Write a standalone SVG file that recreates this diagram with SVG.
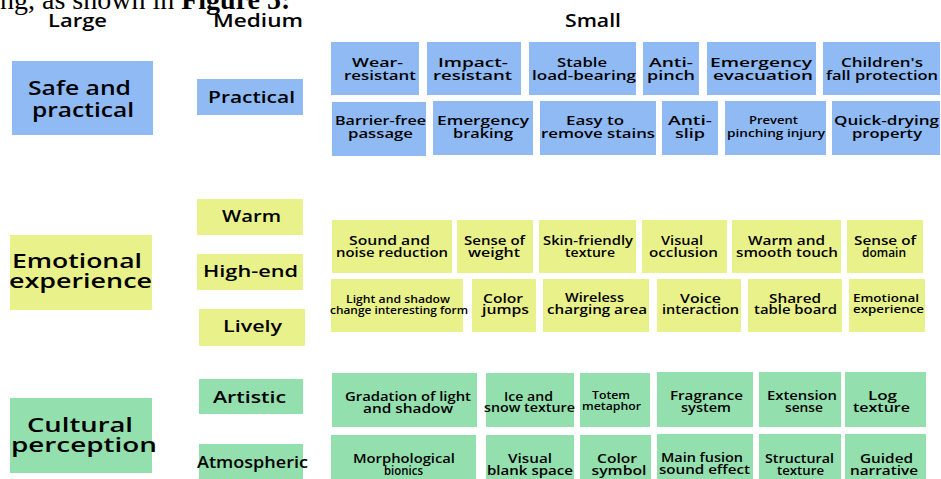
<svg xmlns="http://www.w3.org/2000/svg" width="941" height="479" viewBox="0 0 941 479">
<style>
.b{fill:#8fbaf4}
.y{fill:#e9f28a}
.g{fill:#93dfae}
text{font-family:"Open Sans","DejaVu Sans",sans-serif;font-weight:600;fill:#000;text-anchor:middle}
.h{font-size:18px}
.L{font-size:20px}
.M{font-size:16px}
.s{font-size:13px}
.t{font-size:10.5px}
.cap{font-family:"Liberation Serif","Times New Roman",serif;font-weight:400;font-size:28px;text-anchor:start}
</style>
<rect width="941" height="479" fill="#fff"/>
<text class="cap" x="0" y="9">ng, as shown in <tspan font-weight="700">Figure 5:</tspan></text>

<g id="headers">
<text class="h" x="77.5" y="27" textLength="59" lengthAdjust="spacingAndGlyphs">Large</text>
<text class="h" x="258" y="27" textLength="90" lengthAdjust="spacingAndGlyphs">Medium</text>
<text class="h" x="593" y="27" textLength="56" lengthAdjust="spacingAndGlyphs">Small</text>
</g>

<!-- Large -->
<g id="safe-and-practical"><rect class="b" x="12" y="61" width="141" height="74"/>
<text class="L" x="79.5" y="95" textLength="103" lengthAdjust="spacingAndGlyphs">Safe and</text>
<text class="L" x="83" y="117" textLength="102" lengthAdjust="spacingAndGlyphs">practical</text></g>
<g id="emotional-experience"><rect class="y" x="10" y="235" width="142" height="75"/>
<text class="L" x="77" y="268" textLength="130" lengthAdjust="spacingAndGlyphs">Emotional</text>
<text class="L" x="80.5" y="288" textLength="143" lengthAdjust="spacingAndGlyphs">experience</text></g>
<g id="cultural-perception"><rect class="g" x="10" y="398" width="142" height="75"/>
<text class="L" x="80" y="432" textLength="106" lengthAdjust="spacingAndGlyphs">Cultural</text>
<text class="L" x="84" y="452" textLength="146" lengthAdjust="spacingAndGlyphs">perception</text></g>

<!-- Medium -->
<g id="practical"><rect class="b" x="197" y="79" width="106" height="36"/>
<text class="M" x="251.5" y="103" textLength="87" lengthAdjust="spacingAndGlyphs">Practical</text></g>
<g id="warm"><rect class="y" x="197" y="199" width="106" height="36"/>
<text class="M" x="251.5" y="222" textLength="59" lengthAdjust="spacingAndGlyphs">Warm</text></g>
<g id="high-end"><rect class="y" x="197" y="254" width="106" height="36"/>
<text class="M" x="250.5" y="277" textLength="95" lengthAdjust="spacingAndGlyphs">High-end</text></g>
<g id="lively"><rect class="y" x="199" y="309" width="106" height="37"/>
<text class="M" x="252.5" y="332" textLength="59" lengthAdjust="spacingAndGlyphs">Lively</text></g>
<g id="artistic"><rect class="g" x="199" y="379" width="104" height="35"/>
<text class="M" x="249.5" y="403" textLength="73" lengthAdjust="spacingAndGlyphs">Artistic</text></g>
<g id="atmospheric"><rect class="g" x="199" y="444" width="104" height="40"/>
<text class="M" x="252.5" y="468" textLength="111" lengthAdjust="spacingAndGlyphs">Atmospheric</text></g>

<!-- Small: blue row 1 -->
<g id="wear-resistant"><rect class="b" x="331" y="42" width="88" height="53"/>
<text class="s" x="377.5" y="67" textLength="51" lengthAdjust="spacingAndGlyphs">Wear-</text>
<text class="s" x="380" y="80" textLength="72" lengthAdjust="spacingAndGlyphs">resistant</text></g>
<g id="impact-resistant"><rect class="b" x="427" y="42" width="94" height="53"/>
<text class="s" x="473" y="67" textLength="70" lengthAdjust="spacingAndGlyphs">Impact-</text>
<text class="s" x="472.5" y="80" textLength="79" lengthAdjust="spacingAndGlyphs">resistant</text></g>
<g id="stable-load-bearing"><rect class="b" x="529" y="42" width="107" height="53"/>
<text class="s" x="582" y="67" textLength="50" lengthAdjust="spacingAndGlyphs">Stable</text>
<text class="s" x="584" y="80" textLength="104" lengthAdjust="spacingAndGlyphs">load-bearing</text></g>
<g id="anti-pinch"><rect class="b" x="643" y="42" width="56" height="53"/>
<text class="s" x="671" y="67" textLength="44" lengthAdjust="spacingAndGlyphs">Anti-</text>
<text class="s" x="671" y="80" textLength="48" lengthAdjust="spacingAndGlyphs">pinch</text></g>
<g id="emergency-evacuation"><rect class="b" x="707" y="42" width="109" height="53"/>
<text class="s" x="761" y="67" textLength="102" lengthAdjust="spacingAndGlyphs">Emergency</text>
<text class="s" x="763" y="80" textLength="100" lengthAdjust="spacingAndGlyphs">evacuation</text></g>
<g id="childrens-fall-protection"><rect class="b" x="823" y="42" width="117" height="53"/>
<text class="s" x="882" y="67" textLength="82" lengthAdjust="spacingAndGlyphs">Children's</text>
<text class="s" x="882" y="80" textLength="112" lengthAdjust="spacingAndGlyphs">fall protection</text></g>

<!-- blue row 2 -->
<g id="barrier-free-passage"><rect class="b" x="332" y="102" width="94" height="54"/>
<text class="s" x="380.5" y="125" textLength="91" lengthAdjust="spacingAndGlyphs">Barrier-free</text>
<text class="s" x="380.5" y="138" textLength="65" lengthAdjust="spacingAndGlyphs">passage</text></g>
<g id="emergency-braking"><rect class="b" x="433" y="101" width="100" height="54"/>
<text class="s" x="483" y="125" textLength="92" lengthAdjust="spacingAndGlyphs">Emergency</text>
<text class="s" x="483" y="138" textLength="60" lengthAdjust="spacingAndGlyphs">braking</text></g>
<g id="easy-to-remove-stains"><rect class="b" x="540" y="101" width="116" height="54"/>
<text class="s" x="595" y="125" textLength="58" lengthAdjust="spacingAndGlyphs">Easy to</text>
<text class="s" x="598" y="138" textLength="114" lengthAdjust="spacingAndGlyphs">remove stains</text></g>
<g id="anti-slip"><rect class="b" x="662" y="101" width="56" height="54"/>
<text class="s" x="690" y="125" textLength="44" lengthAdjust="spacingAndGlyphs">Anti-</text>
<text class="s" x="690" y="138" textLength="30" lengthAdjust="spacingAndGlyphs">slip</text></g>
<g id="prevent-pinching-injury"><rect class="b" x="725" y="101" width="101" height="54"/>
<text class="t" x="773.5" y="124" textLength="49" lengthAdjust="spacingAndGlyphs">Prevent</text>
<text class="t" x="776" y="137" textLength="98" lengthAdjust="spacingAndGlyphs">pinching injury</text></g>
<g id="quick-drying-property"><rect class="b" x="832" y="101" width="108" height="54"/>
<text class="s" x="886.5" y="125" textLength="105" lengthAdjust="spacingAndGlyphs">Quick-drying</text>
<text class="s" x="887" y="138" textLength="70" lengthAdjust="spacingAndGlyphs">property</text></g>

<!-- yellow row 1 -->
<g id="sound-and-noise-reduction"><rect class="y" x="332" y="220" width="120" height="53"/>
<text class="s" x="389.5" y="245" textLength="81" lengthAdjust="spacingAndGlyphs">Sound and</text>
<text class="s" x="392" y="257" textLength="112" lengthAdjust="spacingAndGlyphs">noise reduction</text></g>
<g id="sense-of-weight"><rect class="y" x="457" y="220" width="76" height="53"/>
<text class="s" x="494.5" y="245" textLength="61" lengthAdjust="spacingAndGlyphs">Sense of</text>
<text class="s" x="494" y="257" textLength="52" lengthAdjust="spacingAndGlyphs">weight</text></g>
<g id="skin-friendly-texture"><rect class="y" x="539" y="220" width="97" height="53"/>
<text class="s" x="588" y="245" textLength="90" lengthAdjust="spacingAndGlyphs">Skin-friendly</text>
<text class="s" x="590" y="257" textLength="50" lengthAdjust="spacingAndGlyphs">texture</text></g>
<g id="visual-occlusion"><rect class="y" x="642" y="220" width="85" height="53"/>
<text class="s" x="682" y="245" textLength="42" lengthAdjust="spacingAndGlyphs">Visual</text>
<text class="s" x="683.5" y="257" textLength="69" lengthAdjust="spacingAndGlyphs">occlusion</text></g>
<g id="warm-and-smooth-touch"><rect class="y" x="732" y="220" width="109" height="53"/>
<text class="s" x="786.5" y="245" textLength="77" lengthAdjust="spacingAndGlyphs">Warm and</text>
<text class="s" x="787" y="257" textLength="102" lengthAdjust="spacingAndGlyphs">smooth touch</text></g>
<g id="sense-of-domain"><rect class="y" x="847" y="220" width="76" height="53"/>
<text class="s" x="885" y="245" textLength="62" lengthAdjust="spacingAndGlyphs">Sense of</text>
<text class="s" x="884" y="257" textLength="44" lengthAdjust="spacingAndGlyphs">domain</text></g>

<!-- yellow row 2 -->
<g id="light-and-shadow"><rect class="y" x="331" y="279" width="132" height="53"/>
<text class="t" x="398" y="303" textLength="104" lengthAdjust="spacingAndGlyphs">Light and shadow</text>
<text class="t" x="399" y="314" textLength="138" lengthAdjust="spacingAndGlyphs">change interesting form</text></g>
<g id="color-jumps"><rect class="y" x="472" y="279" width="64" height="53"/>
<text class="s" x="503" y="303" textLength="40" lengthAdjust="spacingAndGlyphs">Color</text>
<text class="s" x="505.5" y="314" textLength="47" lengthAdjust="spacingAndGlyphs">jumps</text></g>
<g id="wireless-charging-area"><rect class="y" x="543" y="279" width="106" height="53"/>
<text class="s" x="594.5" y="302" textLength="59" lengthAdjust="spacingAndGlyphs">Wireless</text>
<text class="s" x="597" y="314" textLength="100" lengthAdjust="spacingAndGlyphs">charging area</text></g>
<g id="voice-interaction"><rect class="y" x="657" y="279" width="84" height="53"/>
<text class="s" x="700.5" y="303" textLength="41" lengthAdjust="spacingAndGlyphs">Voice</text>
<text class="s" x="700.5" y="314" textLength="77" lengthAdjust="spacingAndGlyphs">interaction</text></g>
<g id="shared-table-board"><rect class="y" x="748" y="279" width="94" height="53"/>
<text class="s" x="795" y="303" textLength="52" lengthAdjust="spacingAndGlyphs">Shared</text>
<text class="s" x="795.5" y="314" textLength="83" lengthAdjust="spacingAndGlyphs">table board</text></g>
<g id="emotional-experience-small"><rect class="y" x="849" y="279" width="76" height="53"/>
<text class="t" x="886" y="302" textLength="66" lengthAdjust="spacingAndGlyphs">Emotional</text>
<text class="t" x="888.5" y="313" textLength="71" lengthAdjust="spacingAndGlyphs">experience</text></g>

<!-- green row 1 -->
<g id="gradation-of-light-and-shadow"><rect class="g" x="332" y="373" width="145" height="54"/>
<text class="s" x="408" y="401" textLength="126" lengthAdjust="spacingAndGlyphs">Gradation of light</text>
<text class="s" x="408" y="413" textLength="90" lengthAdjust="spacingAndGlyphs">and shadow</text></g>
<g id="ice-and-snow-texture"><rect class="g" x="486" y="373" width="88" height="54"/>
<text class="s" x="528.5" y="401" textLength="49" lengthAdjust="spacingAndGlyphs">Ice and</text>
<text class="s" x="529.5" y="412" textLength="91" lengthAdjust="spacingAndGlyphs">snow texture</text></g>
<g id="totem-metaphor"><rect class="g" x="580" y="373" width="70" height="54"/>
<text class="t" x="611" y="399" textLength="38" lengthAdjust="spacingAndGlyphs">Totem</text>
<text class="t" x="611.5" y="410" textLength="59" lengthAdjust="spacingAndGlyphs">metaphor</text></g>
<g id="fragrance-system"><rect class="g" x="657" y="372" width="96" height="55"/>
<text class="s" x="706.5" y="400" textLength="73" lengthAdjust="spacingAndGlyphs">Fragrance</text>
<text class="s" x="706" y="412" textLength="50" lengthAdjust="spacingAndGlyphs">system</text></g>
<g id="extension-sense"><rect class="g" x="759" y="372" width="82" height="55"/>
<text class="s" x="802" y="400" textLength="70" lengthAdjust="spacingAndGlyphs">Extension</text>
<text class="s" x="804" y="412" textLength="38" lengthAdjust="spacingAndGlyphs">sense</text></g>
<g id="log-texture"><rect class="g" x="845" y="372" width="81" height="55"/>
<text class="s" x="882.5" y="400" textLength="29" lengthAdjust="spacingAndGlyphs">Log</text>
<text class="s" x="881.5" y="412" textLength="57" lengthAdjust="spacingAndGlyphs">texture</text></g>

<!-- green row 2 -->
<g id="morphological-bionics"><rect class="g" x="331" y="435" width="145" height="50"/>
<text class="s" x="404" y="463" textLength="102" lengthAdjust="spacingAndGlyphs">Morphological</text>
<text class="s" x="403.5" y="475" textLength="39" lengthAdjust="spacingAndGlyphs">bionics</text></g>
<g id="visual-blank-space"><rect class="g" x="486" y="435" width="88" height="50"/>
<text class="s" x="530" y="463" textLength="44" lengthAdjust="spacingAndGlyphs">Visual</text>
<text class="s" x="530" y="475" textLength="86" lengthAdjust="spacingAndGlyphs">blank space</text></g>
<g id="color-symbol"><rect class="g" x="580" y="435" width="71" height="50"/>
<text class="s" x="617" y="463" textLength="40" lengthAdjust="spacingAndGlyphs">Color</text>
<text class="s" x="619" y="475" textLength="55" lengthAdjust="spacingAndGlyphs">symbol</text></g>
<g id="main-fusion-sound-effect"><rect class="g" x="657" y="434" width="96" height="50"/>
<text class="s" x="702" y="462" textLength="82" lengthAdjust="spacingAndGlyphs">Main fusion</text>
<text class="s" x="704.5" y="474" textLength="91" lengthAdjust="spacingAndGlyphs">sound effect</text></g>
<g id="structural-texture"><rect class="g" x="759" y="434" width="82" height="50"/>
<text class="s" x="799.5" y="463" textLength="69" lengthAdjust="spacingAndGlyphs">Structural</text>
<text class="s" x="800.5" y="475" textLength="47" lengthAdjust="spacingAndGlyphs">texture</text></g>
<g id="guided-narrative"><rect class="g" x="845" y="434" width="81" height="50"/>
<text class="s" x="886.5" y="463" textLength="53" lengthAdjust="spacingAndGlyphs">Guided</text>
<text class="s" x="884" y="475" textLength="68" lengthAdjust="spacingAndGlyphs">narrative</text></g>

<g id="connectors"/>
</svg>
